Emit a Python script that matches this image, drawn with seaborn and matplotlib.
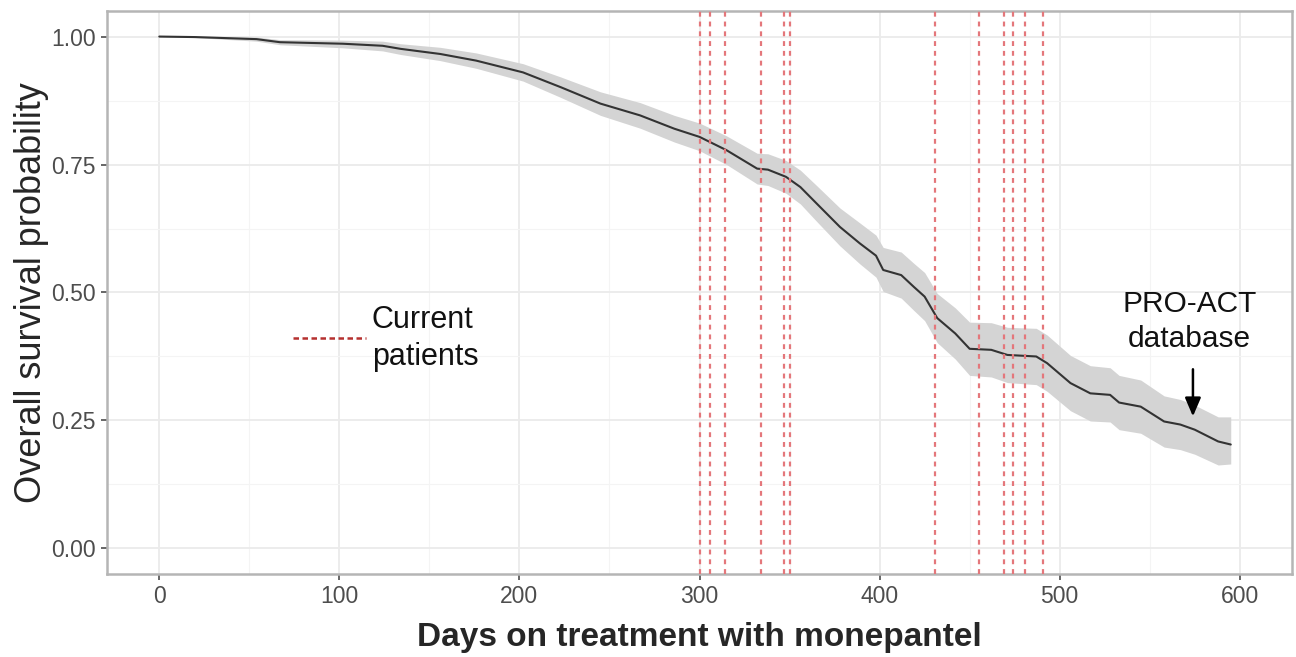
import numpy as np
import pandas as pd
import matplotlib
matplotlib.use("Agg")
import matplotlib.pyplot as plt
from matplotlib.ticker import MultipleLocator
import seaborn as sns

# Kaplan-Meier curve (days, survival, CI bounds)
days = [0, 20, 54, 67, 102, 124, 134, 156, 176, 202, 223, 245, 267, 286, 300,
        315, 332, 338, 348, 356, 365, 378, 389, 398, 402, 412, 419, 425, 432,
        442, 450, 462, 471, 487, 493, 506, 517, 528, 533, 545, 558, 567, 575,
        588, 595]
surv = [1.000, 0.999, 0.995, 0.989, 0.986, 0.982, 0.976, 0.966, 0.953, 0.930,
        0.901, 0.869, 0.846, 0.820, 0.804, 0.778, 0.742, 0.740, 0.726, 0.706,
        0.674, 0.628, 0.596, 0.572, 0.544, 0.534, 0.511, 0.492, 0.450, 0.420,
        0.390, 0.388, 0.378, 0.375, 0.362, 0.323, 0.303, 0.300, 0.285, 0.277,
        0.248, 0.242, 0.232, 0.209, 0.203]
lower = [1.000, 0.998, 0.991, 0.984, 0.978, 0.972, 0.965, 0.953, 0.938, 0.913,
         0.881, 0.846, 0.821, 0.794, 0.777, 0.750, 0.712, 0.709, 0.694, 0.673,
         0.639, 0.591, 0.556, 0.530, 0.502, 0.489, 0.465, 0.445, 0.402, 0.370,
         0.338, 0.335, 0.324, 0.320, 0.307, 0.269, 0.249, 0.247, 0.232, 0.225,
         0.198, 0.193, 0.184, 0.163, 0.165]
upper = [1.000, 1.000, 0.999, 0.994, 0.993, 0.991, 0.986, 0.979, 0.968, 0.947,
         0.921, 0.892, 0.871, 0.846, 0.831, 0.806, 0.772, 0.771, 0.758, 0.739,
         0.709, 0.665, 0.636, 0.612, 0.588, 0.579, 0.557, 0.539, 0.498, 0.470,
         0.442, 0.441, 0.432, 0.430, 0.417, 0.377, 0.357, 0.353, 0.338, 0.329,
         0.298, 0.291, 0.280, 0.257, 0.257]

# days on treatment of the current patients
patient_days = [300, 306, 314, 334, 347, 350, 431, 455, 469, 474, 481, 491]

df = pd.DataFrame({"days": days, "surv": surv, "lower": lower, "upper": upper})

sns.set_theme(style="white")
plt.rcParams["font.family"] = ["Liberation Sans", "DejaVu Sans"]

fig = plt.figure(figsize=(12.96, 6.57), dpi=100)
ax = fig.add_axes([0.0826, 0.1263, 0.9143, 0.857])

# confidence band + curve
ax.fill_between(df["days"], df["lower"], df["upper"], color="#D4D4D4", lw=0, zorder=2)
sns.lineplot(data=df, x="days", y="surv", ax=ax, color="#333333", lw=1.5, zorder=3)

# current patients
for d in patient_days:
    ax.axvline(d, color="#E4777B", lw=1.6, ls=(0, (2.2, 2.2)), zorder=4)

ax.set_xlim(-29, 629)
ax.xaxis.set_major_locator(MultipleLocator(100))
ax.xaxis.set_minor_locator(MultipleLocator(50))
ax.yaxis.set_major_locator(MultipleLocator(0.25))
ax.yaxis.set_minor_locator(MultipleLocator(0.125))
ax.set_ylim(-0.05, 1.05)
ax.yaxis.set_major_formatter(lambda v, p: f"{v:.2f}")

ax.grid(which="major", color="#EBEBEB", lw=1.3, zorder=0)
ax.grid(which="minor", color="#F4F4F4", lw=0.8, zorder=0)
ax.set_axisbelow(True)

for s in ax.spines.values():
    s.set_color("#B5B5B5")
    s.set_linewidth(1.8)

ax.tick_params(which="major", length=4, width=1.2, color="#4D4D4D",
               labelcolor="#4D4D4D", labelsize=16.5, pad=4, bottom=True, left=True)
ax.tick_params(which="minor", length=0)

ax.set_xlabel("Days on treatment with monepantel", fontsize=24, fontweight="bold",
              labelpad=10)
ax.set_ylabel("Overall survival probability", fontsize=26, labelpad=2)

# legend-like annotation
ax.plot([74, 115], [0.411, 0.411], color="#B5302F", lw=1.8, ls=(0, (2.2, 1.4)), zorder=5)
ax.text(118, 0.41, "Current\npatients", fontsize=22, va="center", ha="left",
        linespacing=1.3, color="#111111")

ax.text(572, 0.505, "PRO-ACT\ndatabase", fontsize=21.5, va="top", ha="center",
        linespacing=1.3, color="#111111")
ax.annotate("", xy=(574, 0.258), xytext=(574, 0.350),
            arrowprops=dict(arrowstyle="-|>,head_width=0.3,head_length=0.7",
                            color="black", lw=1.8, mutation_scale=16,
                            shrinkA=0, shrinkB=0))

fig.savefig("out.png", dpi=100)
